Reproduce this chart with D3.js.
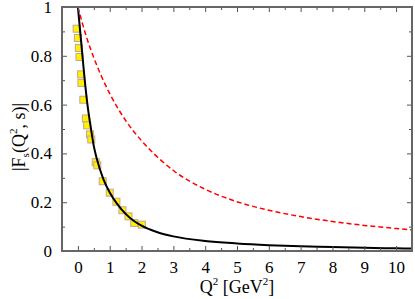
<!DOCTYPE html>
<html>
<head>
<meta charset="utf-8">
<script src="https://cdn.jsdelivr.net/npm/d3@7"></script>
<style>
  body { margin: 0; background: #fff; }
  svg { display: block; }
</style>
</head>
<body>
<svg id="chart" width="415" height="299"></svg>
<script>
// squares (data points)
var dataQ2 = [-0.04, 0.0, 0.03, 0.05, 0.1, 0.11, 0.17, 0.25, 0.29, 0.38, 0.42, 0.56, 0.61, 0.78, 1.0, 1.21, 1.40, 1.59, 1.77, 2.01];
var dataF  = [0.911, 0.873, 0.832, 0.795, 0.724, 0.689, 0.62, 0.543, 0.515, 0.478, 0.457, 0.364, 0.351, 0.286, 0.239, 0.202, 0.167, 0.142, 0.115, 0.108];

// solid black curve
var blackQ2 = [0, 0.05, 0.1, 0.2, 0.3, 0.4, 0.5, 0.6, 0.8, 1.0, 1.25, 1.5, 1.75, 2.0, 2.5, 3, 4, 5, 6, 7, 8, 9, 10, 10.5];
var blackF  = [1.0, 0.93, 0.86, 0.72, 0.60, 0.51, 0.43, 0.375, 0.295, 0.24, 0.19, 0.152, 0.124, 0.104, 0.077, 0.060, 0.041, 0.031, 0.024, 0.019, 0.016, 0.013, 0.011, 0.010];

// dashed red curve
var redQ2 = [0, 0.25, 0.5, 0.75, 1.0, 1.5, 2.0, 2.5, 3, 4, 5, 6, 7, 8, 9, 10, 10.5];
var redF  = [1.0, 0.885, 0.792, 0.713, 0.645, 0.535, 0.452, 0.385, 0.330, 0.253, 0.202, 0.167, 0.141, 0.121, 0.105, 0.092, 0.086];

var xTicks = [0, 1, 2, 3, 4, 5, 6, 7, 8, 9, 10];
var yTicks = [0, 0.2, 0.4, 0.6, 0.8, 1];

var W = 415, H = 299;
var margin = {left: 62, right: 3, top: 7, bottom: 48};
var FONT = '"Liberation Serif", "Times New Roman", serif';

var svg = d3.select('#chart');

var x = d3.scaleLinear().domain([-0.5, 10.5]).range([margin.left, W - margin.right]);
var y = d3.scaleLinear().domain([0, 1]).range([H - margin.bottom, margin.top]);

var plotW = W - margin.left - margin.right;
var plotH = H - margin.top - margin.bottom;

svg.append('clipPath').attr('id', 'clip')
    .append('rect')
    .attr('x', margin.left).attr('y', margin.top)
    .attr('width', plotW).attr('height', plotH);

var plot = svg.append('g').attr('clip-path', 'url(#clip)');

var line = d3.line()
    .x(function (d) { return x(d[0]); })
    .y(function (d) { return y(d[1]); })
    .curve(d3.curveMonotoneX);

plot.append('path')
    .datum(redQ2.map(function (q, i) { return [q, redF[i]]; }))
    .attr('d', line)
    .attr('fill', 'none')
    .attr('stroke', '#ff0000')
    .attr('stroke-width', 1.5)
    .attr('stroke-dasharray', '5,3');

// squares
plot.selectAll('.pt')
    .data(dataQ2.map(function (q, i) { return [q, dataF[i]]; }))
    .enter().append('rect')
    .attr('class', 'pt')
    .attr('x', function (d) { return x(d[0]) - 3.5; })
    .attr('y', function (d) { return y(d[1]) - 3.5; })
    .attr('width', 7)
    .attr('height', 7)
    .attr('fill', '#fff200')
    .attr('stroke', '#c4a49a')
    .attr('stroke-width', 1);

plot.append('path')
    .datum(blackQ2.map(function (q, i) { return [q, blackF[i]]; }))
    .attr('d', line)
    .attr('fill', 'none')
    .attr('stroke', '#000')
    .attr('stroke-width', 2);

// axes: ticks inward on all four sides
var xMinor = d3.range(-0.5, 10.51, 0.5).filter(function (v) { return Math.abs(v - Math.round(v)) > 0.01; });
var yMinor = [0.1, 0.3, 0.5, 0.7, 0.9];

function addAxis(axis, tr) {
    var g = svg.append('g').attr('transform', tr).call(axis);
    g.attr('font-family', FONT);
    g.select('.domain').remove();
    g.selectAll('line').attr('stroke', '#555').attr('stroke-width', 1);
    g.selectAll('text').attr('font-family', FONT).attr('font-size', 17).attr('fill', '#000');
    return g;
}

addAxis(d3.axisBottom(x).tickValues(xTicks).tickSizeInner(-5).tickSizeOuter(0).tickPadding(10).tickFormat(d3.format('d')),
    'translate(0,' + (H - margin.bottom) + ')');
addAxis(d3.axisBottom(x).tickValues(xMinor).tickSizeInner(-3).tickSizeOuter(0).tickFormat(''),
    'translate(0,' + (H - margin.bottom) + ')');
addAxis(d3.axisTop(x).tickValues(xTicks).tickSizeInner(-5).tickSizeOuter(0).tickFormat(''),
    'translate(0,' + margin.top + ')');
addAxis(d3.axisTop(x).tickValues(xMinor).tickSizeInner(-3).tickSizeOuter(0).tickFormat(''),
    'translate(0,' + margin.top + ')');

addAxis(d3.axisLeft(y).tickValues(yTicks).tickSizeInner(-5).tickSizeOuter(0).tickPadding(10).tickFormat(function (d) { return String(+d.toFixed(1)); }),
    'translate(' + margin.left + ',0)');
addAxis(d3.axisLeft(y).tickValues(yMinor).tickSizeInner(-3).tickSizeOuter(0).tickFormat(''),
    'translate(' + margin.left + ',0)');
addAxis(d3.axisRight(y).tickValues(yTicks).tickSizeInner(-5).tickSizeOuter(0).tickFormat(''),
    'translate(' + (W - margin.right) + ',0)');
addAxis(d3.axisRight(y).tickValues(yMinor).tickSizeInner(-3).tickSizeOuter(0).tickFormat(''),
    'translate(' + (W - margin.right) + ',0)');

// frame
svg.append('rect')
    .attr('x', margin.left).attr('y', margin.top)
    .attr('width', plotW).attr('height', plotH)
    .attr('fill', 'none')
    .attr('stroke', '#666')
    .attr('stroke-width', 2);

// x title
var xt = svg.append('text')
    .attr('x', x(5))
    .attr('y', 293)
    .attr('text-anchor', 'middle')
    .attr('font-family', FONT)
    .attr('font-size', 18);
xt.append('tspan').text('Q');
xt.append('tspan').attr('dy', -8).attr('font-size', 11).text('2');
xt.append('tspan').attr('dy', 8).text(' [GeV');
xt.append('tspan').attr('dy', -8).attr('font-size', 11).text('2');
xt.append('tspan').attr('dy', 8).text(']');

// y title
var yt = svg.append('text')
    .attr('transform', 'translate(25,' + (margin.top + plotH / 2 + 8) + ') rotate(-90)')
    .attr('text-anchor', 'middle')
    .attr('font-family', FONT)
    .attr('font-size', 18);
yt.append('tspan').text('|F');
yt.append('tspan').attr('dy', 4).attr('font-size', 11).text('s');
yt.append('tspan').attr('dy', -4).text('(Q');
yt.append('tspan').attr('dy', -8).attr('font-size', 11).text('2');
yt.append('tspan').attr('dy', 8).text(', s)|');
</script>
</body>
</html>
